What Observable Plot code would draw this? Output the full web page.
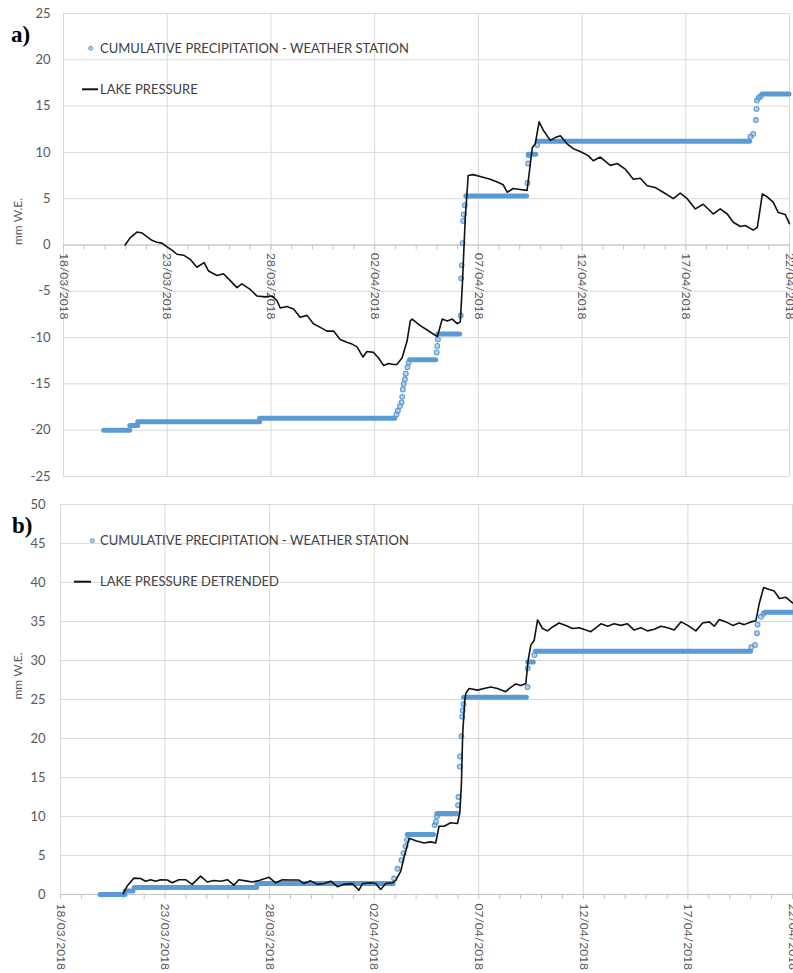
<!DOCTYPE html>
<html><head><meta charset="utf-8">
<script src="https://cdn.jsdelivr.net/npm/d3@7"></script>
<script src="https://cdn.jsdelivr.net/npm/@observablehq/plot@0.6"></script>
<style>
body{margin:0;background:#fff;}
#wrap{position:relative;width:793px;height:973px;overflow:hidden;background:#fff;}
#wrap svg{display:block;overflow:visible;}
</style></head><body><div id="wrap"></div>
<script>
// ---------- data (days since 18/03/2018 00:00 UTC) ----------
const tickDays = [0, 5, 10, 15, 20, 25, 30, 35];
const tickLabels = ["18/03/2018","23/03/2018","28/03/2018","02/04/2018","07/04/2018","12/04/2018","17/04/2018","22/04/2018"];
const minorTickDays = d3.range(0, 36);
const yTicksA = [-25,-20,-15,-10,-5,0,5,10,15,20,25];
const yTicksB = [0,5,10,15,20,25,30,35,40,45,50];

const legendPrecip = "CUMULATIVE PRECIPITATION - WEATHER STATION";
const legendLakeA = "LAKE PRESSURE";
const legendLakeB = "LAKE PRESSURE DETRENDED";
const yLabel = "mm W.E.";

// Panel a — cumulative precipitation: flat steps [startDay, endDay, value]
const precipStepsA = [[1.96,3.22,-20.0],[3.22,3.60,-19.5],[3.60,9.48,-19.1],[9.48,15.99,-18.7],[16.70,17.97,-12.4],[18.07,19.12,-9.6],[19.42,22.35,5.3],[22.43,22.79,9.8],[22.86,33.10,11.2],[33.70,35.0,16.3]];
// Panel a — precipitation samples during the rises [day, value]
const precipDotsA = [[16.05,-18.3],[16.12,-17.9],[16.22,-17.4],[16.3,-17.0],[16.33,-16.4],[16.36,-15.6],[16.4,-15.0],[16.46,-14.5],[16.5,-13.9],[16.58,-13.2],[16.64,-12.7],
  [17.99,-11.6],[18.02,-10.9],[18.05,-10.2],
  [19.15,-7.6],[19.17,-3.6],[19.2,-2.2],[19.24,0.2],[19.27,2.6],[19.3,3.3],[19.35,4.3],
  [22.37,6.7],[22.4,8.8],[22.43,9.7],[22.83,10.8],
  [33.12,11.7],[33.25,12.0],[33.38,13.5],[33.41,14.7],[33.43,15.6],[33.52,15.9],[33.62,16.1]];
// Panel a — lake pressure [day, value]
const lakeA = [[2.97,0],[3.22,0.8],[3.54,1.4],[3.78,1.3],[4.02,0.9],[4.26,0.5],[4.5,0.3],[4.74,0.2],[4.99,-0.2],[5.23,-0.55],[5.47,-1.0],[5.79,-1.1],[6.11,-1.55],[6.43,-2.4],[6.78,-1.9],[6.99,-2.8],[7.4,-3.3],[7.71,-3.1],[8.04,-3.85],[8.36,-4.6],[8.6,-4.2],[9.0,-4.8],[9.32,-5.5],[9.73,-5.6],[10.05,-5.5],[10.29,-6.0],[10.45,-6.8],[10.77,-6.65],[11.09,-6.9],[11.41,-7.8],[11.74,-7.6],[12.05,-8.5],[12.38,-8.9],[12.7,-9.3],[13.02,-9.3],[13.34,-10.2],[13.66,-10.5],[13.91,-10.7],[14.15,-11.0],[14.44,-12.1],[14.63,-11.5],[14.95,-11.6],[15.19,-12.2],[15.43,-13.0],[15.67,-12.8],[15.91,-12.9],[16.07,-12.9],[16.32,-12.2],[16.56,-10.4],[16.72,-8.2],[16.81,-8.0],[17.2,-8.7],[17.68,-9.4],[18.02,-9.9],[18.26,-8.0],[18.5,-8.2],[18.74,-8.0],[18.98,-8.5],[19.13,-8.3],[19.23,-4.2],[19.37,3.0],[19.51,7.5],[19.75,7.6],[20.09,7.4],[20.57,7.1],[20.91,6.8],[21.2,6.5],[21.39,5.7],[21.68,6.1],[22.01,6.0],[22.35,5.9],[22.6,10.5],[22.74,10.9],[22.93,13.3],[23.13,12.4],[23.47,11.3],[23.71,11.6],[23.95,11.8],[24.29,10.9],[24.58,10.4],[24.91,10.1],[25.3,9.65],[25.54,9.1],[25.88,9.5],[26.36,8.6],[26.7,8.8],[27.08,8.2],[27.47,7.1],[27.81,7.2],[28.14,6.4],[28.53,6.2],[28.91,5.7],[29.4,5.0],[29.73,5.6],[30.07,5.0],[30.46,3.9],[30.84,4.4],[31.33,3.35],[31.66,3.9],[32.0,3.35],[32.29,2.45],[32.63,2.0],[32.87,2.1],[33.25,1.6],[33.45,1.9],[33.69,5.5],[33.93,5.2],[34.22,4.6],[34.46,3.5],[34.79,3.3],[35.0,2.3]];

// Panel b — cumulative precipitation steps and rise samples
const precipStepsB = [[1.91,3.11,0.0],[3.11,3.49,0.45],[3.55,9.41,0.9],[9.41,15.93,1.4],[16.6,17.86,7.7],[18.02,18.99,10.4],[19.3,22.3,25.3],[22.36,22.63,29.8],[22.73,33.02,31.2],[33.7,35.0,36.2]];
const precipDotsB = [[15.95,2.05],[16.11,3.3],[16.3,4.4],[16.4,5.3],[16.5,6.2],[16.57,7.0],
  [17.89,8.9],[17.95,9.3],[18.0,10.0],
  [19.01,11.45],[19.03,12.5],[19.09,16.4],[19.1,17.7],[19.17,20.3],[19.21,22.8],[19.23,23.6],[19.27,24.4],
  [22.33,26.6],[22.34,29.0],[22.66,30.7],
  [33.03,31.7],[33.21,32.0],[33.3,33.5],[33.33,34.6],[33.49,35.6],[33.62,36.0]];
// Panel b — lake pressure detrended
const lakeB = [[3.0,0.1],[3.19,1.1],[3.51,2.1],[3.83,2.05],[4.07,1.7],[4.31,1.9],[4.55,1.7],[4.78,1.9],[5.11,1.85],[5.34,1.5],[5.66,1.9],[5.98,1.9],[6.3,1.3],[6.7,2.35],[7.02,1.6],[7.33,1.8],[7.66,1.7],[7.98,1.9],[8.29,1.2],[8.53,1.9],[8.85,1.75],[9.17,1.6],[9.49,1.8],[9.97,2.2],[10.29,1.5],[10.61,1.9],[11.0,1.85],[11.4,1.85],[11.64,1.4],[11.96,1.75],[12.28,1.3],[12.6,1.4],[12.92,1.7],[13.24,1.0],[13.56,1.3],[13.96,1.4],[14.27,0.55],[14.44,1.4],[14.83,1.5],[15.07,1.4],[15.31,0.65],[15.55,1.4],[15.87,1.5],[16.03,1.8],[16.27,3.0],[16.43,4.8],[16.67,7.2],[16.99,6.9],[17.38,6.6],[17.7,6.75],[17.94,6.6],[18.1,8.75],[18.34,8.75],[18.66,9.2],[18.98,9.1],[19.09,10.4],[19.17,14.2],[19.23,20.6],[19.33,24.9],[19.38,25.8],[19.54,26.4],[19.94,26.2],[20.25,26.4],[20.57,26.6],[20.89,26.4],[21.29,26.0],[21.45,26.4],[21.77,27.0],[22.01,26.8],[22.25,27.05],[22.36,30.0],[22.49,32.0],[22.65,32.6],[22.81,35.2],[23.05,34.1],[23.29,33.8],[23.53,34.3],[23.84,34.8],[24.16,34.5],[24.48,34.1],[24.8,34.2],[25.12,33.9],[25.36,33.7],[25.84,34.7],[26.16,34.4],[26.47,34.7],[26.79,34.5],[27.11,34.7],[27.43,33.9],[27.75,34.2],[28.07,33.8],[28.39,34.0],[28.71,34.4],[29.03,34.2],[29.34,33.9],[29.67,34.95],[29.99,34.5],[30.38,33.8],[30.7,34.8],[31.02,34.95],[31.26,34.4],[31.5,35.25],[31.82,34.95],[32.14,34.5],[32.45,34.8],[32.69,34.6],[33.01,34.95],[33.25,35.1],[33.41,37.3],[33.62,39.35],[33.89,39.1],[34.13,38.9],[34.37,37.95],[34.69,38.1],[35.0,37.4]];

// ---------- rendering ----------
const DAY0 = Date.UTC(2018, 2, 18);
const toDate = d => new Date(DAY0 + d * 86400000);
const BLUE = "#5b9bd5", GRID = "#d9d9d9", LABEL = "#595959";
const FONT = "Lato, 'Open Sans', sans-serif";

function panel(o) {
  const steps = o.steps.map(([a, b, v]) => ({x1: toDate(a), x2: toDate(b), y: v}));
  const dots = o.dots.map(([d, v]) => ({x: toDate(d), y: v}));
  const line = o.line.map(([d, v]) => ({x: toDate(d), y: v}));
  const ticks = tickDays.map(toDate);
  const minor = minorTickDays.map(toDate);
  return Plot.plot({
    width: 793, height: o.height,
    marginTop: o.mt, marginBottom: o.mb, marginLeft: o.ml, marginRight: o.mr,
    style: {fontFamily: FONT, fontSize: "13px", color: LABEL, background: "transparent", overflow: "visible"},
    x: {type: "utc", domain: [toDate(0), toDate(35)], axis: null},
    y: {domain: [o.yTicks[0], o.yTicks[o.yTicks.length - 1]], axis: null},
    marks: [
      Plot.ruleY(o.yTicks, {stroke: GRID, strokeWidth: 1}),
      Plot.ruleX(ticks, {stroke: GRID, strokeWidth: 1}),
      Plot.ruleY([0], {stroke: "#c4c4c4", strokeWidth: 1}),
      Plot.ruleX(minor, {x: d => d, y1: 0, y2: 0, insetBottom: -5, stroke: "#c4c4c4", strokeWidth: 1}),
      Plot.text(o.yTicks, {y: d => d, frameAnchor: "left", dx: -o.ypad, textAnchor: "end", text: d => String(d), fill: LABEL, fontSize: 13}),
      Plot.text([yLabel], {frameAnchor: "left", dx: o.ylabDx, rotate: -90, text: d => d, fill: LABEL, fontSize: 12}),
      Plot.text(ticks, {x: d => d, y: 0, text: (d, i) => tickLabels[i], rotate: 90, textAnchor: "start", dy: o.xlabDy, fill: LABEL, fontSize: 12}),
      Plot.ruleY(steps, {x1: "x1", x2: "x2", y: "y", stroke: BLUE, strokeWidth: 5, strokeLinecap: "round"}),
      Plot.dot(dots, {x: "x", y: "y", r: 2.4, stroke: BLUE, fill: BLUE, fillOpacity: 0.45, strokeWidth: 1.1}),
      Plot.line(line, {x: "x", y: "y", stroke: "#111", strokeWidth: 1.6})
    ]
  });
}

function decorate(svg, o) {
  const s = d3.select(svg).append("g").attr("text-anchor", "start");
  s.append("text").attr("x", o.tagX).attr("y", o.tagY).text(o.tag)
    .attr("font-family", "'Liberation Serif', 'Times New Roman', serif").attr("font-weight", "bold")
    .attr("font-size", 23).attr("fill", "#000");
  s.append("circle").attr("cx", o.dotX).attr("cy", o.dotY).attr("r", 2)
    .attr("fill", BLUE).attr("fill-opacity", 0.5).attr("stroke", BLUE).attr("stroke-width", 1);
  s.append("text").attr("x", 100).attr("y", o.dotY).attr("dy", "0.35em").text(legendPrecip)
    .attr("font-family", FONT).attr("font-size", 13).attr("fill", "#404040");
  s.append("line").attr("x1", o.lineX1).attr("x2", o.lineX2).attr("y1", o.lineY).attr("y2", o.lineY)
    .attr("stroke", "#111").attr("stroke-width", 2);
  s.append("text").attr("x", 100).attr("y", o.lineY).attr("dy", "0.35em").text(o.lakeText)
    .attr("font-family", FONT).attr("font-size", 13).attr("fill", "#404040");
}

const wrap = document.getElementById("wrap");
const a = panel({steps: precipStepsA, dots: precipDotsA, line: lakeA, yTicks: yTicksA,
  height: 490, mt: 13, mb: 14, ml: 63, mr: 4, ypad: 13, ylabDx: -45, xlabDy: 8});
decorate(a, {tag: "a)", tagX: 11, tagY: 42, dotX: 90.7, dotY: 48.3, lineX1: 82, lineX2: 98, lineY: 89.3, lakeText: legendLakeA});
wrap.appendChild(a);
const b = panel({steps: precipStepsB, dots: precipDotsB, line: lakeB, yTicks: yTicksB,
  height: 483, mt: 14, mb: 79, ml: 60, mr: 1, ypad: 15, ylabDx: -42, xlabDy: 9});
decorate(b, {tag: "b)", tagX: 12, tagY: 43, dotX: 92.3, dotY: 50.7, lineX1: 74, lineX2: 91, lineY: 91.7, lakeText: legendLakeB});
wrap.appendChild(b);
</script></body></html>
